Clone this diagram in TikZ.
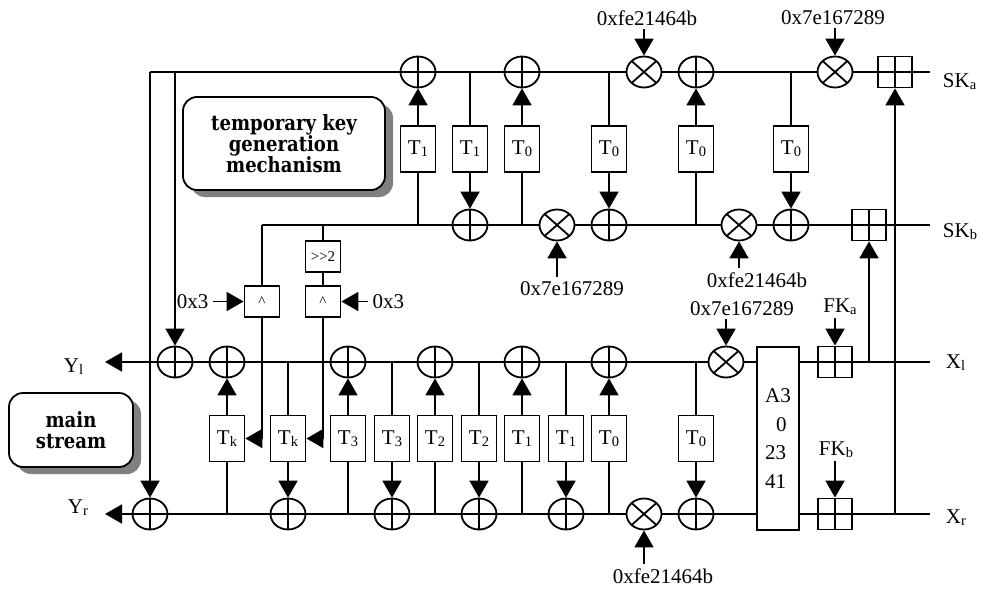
\documentclass[tikz,border=0pt]{standalone}
\usepackage{fontspec}
\setmainfont{Liberation Serif}
\newfontfamily\notefont{DejaVu Serif}[FakeStretch=0.86]
\usepackage{tikz}
\usetikzlibrary{positioning,arrows.meta,shapes.geometric,shadows}

\newcommand{\lsub}[1]{\raisebox{-2pt}{\fontsize{14.5}{14.5}\selectfont #1}}

\begin{document}
\begin{tikzpicture}[
  x=1pt, y=-1pt, line width=1.8pt,
  >={Triangle[length=17pt,width=19pt]},
  every node/.style={font=\fontsize{21}{24}\selectfont},
  adder/.style={draw, ellipse, minimum width=35pt, minimum height=31pt, inner sep=0pt,
    path picture={\draw (path picture bounding box.north) -- (path picture bounding box.south)
      (path picture bounding box.west) -- (path picture bounding box.east);}},
  mult/.style={draw, ellipse, minimum width=35pt, minimum height=31pt, inner sep=0pt,
    path picture={\draw (path picture bounding box.north west) -- (path picture bounding box.south east)
      (path picture bounding box.south west) -- (path picture bounding box.north east);}},
  quad/.style={draw, rectangle, minimum width=34pt, minimum height=31pt, inner sep=0pt,
    path picture={\draw (path picture bounding box.north) -- (path picture bounding box.south)
      (path picture bounding box.west) -- (path picture bounding box.east);}},
  tbox/.style={draw, rectangle, minimum width=35pt, minimum height=46pt, inner sep=0pt},
  andbox/.style={draw, rectangle, minimum width=35pt, minimum height=31pt, inner sep=0pt, font=\fontsize{15}{15}\selectfont},
  note/.style={draw, rounded corners=14pt, fill=white, align=center,
    drop shadow={shadow xshift=8pt, shadow yshift=-7pt, fill=black!50, opacity=1},
    font=\notefont\bfseries\fontsize{21}{21}\selectfont},
  port/.style={anchor=base west, inner sep=0pt}
]
\useasboundingbox (0,0) rectangle (983,592);

% notes
\node[note, minimum width=202pt, minimum height=93pt] (tkn) at (284,143.5) {temporary key\\generation\\mechanism};
\node[note, minimum width=124pt, minimum height=74pt] (msn) at (71,430) {main\\stream};

% SKa line
\node[adder] (ta1) at (418,72) {};
\node[adder] (ta2) at (522,72) {};
\node[mult] (tm1) at (644,72) {};
\node[adder] (ta3) at (696,72) {};
\node[mult] (tm2) at (835,72) {};
\node[quad] (tq) at (895,72) {};
\coordinate (tl) at (150,72);
\coordinate (tl2) at (175,72);
\coordinate (ska) at (930,72);
\draw (tl) -- (ta1) -- (ta2) -- (tm1) -- (ta3) -- (tm2) -- (tq) -- (ska);
\node[port] at (942,87) {SK\lsub{a}};

% SKb line
\node[adder] (ba1) at (470,225) {};
\node[mult] (bm1) at (557,225) {};
\node[adder] (ba2) at (609,225) {};
\node[mult] (bm2) at (739,225) {};
\node[adder] (ba3) at (791,225) {};
\node[quad] (bq) at (869,225) {};
\coordinate (bl) at (262,225);
\coordinate (skb) at (930,225);
\draw (bl) -- (ba1) -- (bm1) -- (ba2) -- (bm2) -- (ba3) -- (bq) -- (skb);
\node[port] at (942,237) {SK\lsub{b}};

% key boxes
\node[tbox] (tt1) at (418,149) {T\lsub{1}};
\node[tbox] (tt2) at (470,149) {T\lsub{1}};
\node[tbox] (tt3) at (522,149) {T\lsub{0}};
\node[tbox] (tt4) at (609,149) {T\lsub{0}};
\node[tbox] (tt5) at (696,149) {T\lsub{0}};
\node[tbox] (tt6) at (791,149) {T\lsub{0}};
\draw (tt1 |- bl) -- (tt1); \draw[->] (tt1) -- (ta1);
\draw (tt2 |- tl) -- (tt2); \draw[->] (tt2) -- (ba1);
\draw (tt3 |- bl) -- (tt3); \draw[->] (tt3) -- (ta2);
\draw (tt4 |- tl) -- (tt4); \draw[->] (tt4) -- (ba2);
\draw (tt5 |- bl) -- (tt5); \draw[->] (tt5) -- (ta3);
\draw (tt6 |- tl) -- (tt6); \draw[->] (tt6) -- (ba3);

% key constants
\node[anchor=base] (k1) at (647,25) {0xfe21464b};
\node[anchor=base] (k2) at (833,24) {0x7e167289};
\node[anchor=base] (k3) at (572,295) {0x7e167289};
\node[anchor=base] (k4) at (757,287) {0xfe21464b};
\draw[->] (k1.south -| tm1) -- (tm1);
\draw[->] (k2.south -| tm2) -- (tm2);
\draw[->] (k3.north -| bm1) -- (bm1);
\draw[->] (k4.north -| bm2) -- (bm2);

% Tk inputs
\node[andbox] (and1) at (262,301.5) {\textasciicircum};
\node[andbox] (shr) at (323,256.5) {>{}>2};
\node[andbox] (and2) at (323,301.5) {\textasciicircum};
\node[left=31pt of and1] (c1) {0x3};
\node[right=27pt of and2] (c2) {0x3};
\draw (bl) -- (and1);
\draw (shr |- bl) -- (shr) -- (and2);
\draw[->] (c1) -- (and1);
\draw[->] (c2) -- (and2);

% main stream
\node[adder] (la0) at (175,362) {};
\node[adder] (la1) at (227,362) {};
\node[adder] (la2) at (348,362) {};
\node[adder] (la3) at (435,362) {};
\node[adder] (la4) at (522,362) {};
\node[adder] (la5) at (609,362) {};
\node[mult] (lm) at (726,362) {};
\node[adder] (ra0) at (150,514) {};
\node[adder] (ra1) at (288,514) {};
\node[adder] (ra2) at (392,514) {};
\node[adder] (ra3) at (479,514) {};
\node[adder] (ra4) at (566,514) {};
\node[mult] (rm) at (644,514) {};
\node[adder] (ra5) at (696,514) {};
\node[draw, minimum width=42pt, minimum height=183pt, inner sep=0pt, align=left,
  font=\fontsize{21}{28.5}\selectfont] (perm) at (778,438.5) {A3\\\hspace{11pt}0\\23\\41};
\node[quad] (fa) at (835,362) {};
\node[quad] (fb) at (835,514) {};
\coordinate (xl) at (930,362);
\coordinate (xr) at (930,514);
\coordinate (yl) at (105,362);
\coordinate (yr) at (105,514);

\draw[->] (la0) -- (yl);
\draw (la0) -- (la1) -- (la2) -- (la3) -- (la4) -- (la5) -- (lm) -- (lm -| perm.west);
\draw (perm.east |- fa) -- (fa) -- (xl);
\draw[->] (ra0) -- (yr);
\draw (ra0) -- (ra1) -- (ra2) -- (ra3) -- (ra4) -- (rm) -- (ra5) -- (ra5 -| perm.west);
\draw (perm.east |- fb) -- (fb) -- (xr);
\draw[->] (tl) -- (ra0);
\draw[->] (tl2) -- (la0);
\draw[->] (bq |- xl) -- (bq);
\draw[->] (tq |- xr) -- (tq);

\node[port] at (63,372) {Y\lsub{l}};
\node[port] at (67,513) {Y\lsub{r}};
\node[port] at (945,368) {X\lsub{l}};
\node[port] at (945,523) {X\lsub{r}};

% round boxes
\node[tbox] (mt1) at (227,438.5) {T\lsub{k}};
\node[tbox] (mt2) at (288,438.5) {T\lsub{k}};
\node[tbox] (mt3) at (348,438.5) {T\lsub{3}};
\node[tbox] (mt4) at (392,438.5) {T\lsub{3}};
\node[tbox] (mt5) at (435,438.5) {T\lsub{2}};
\node[tbox] (mt6) at (479,438.5) {T\lsub{2}};
\node[tbox] (mt7) at (522,438.5) {T\lsub{1}};
\node[tbox] (mt8) at (566,438.5) {T\lsub{1}};
\node[tbox] (mt9) at (609,438.5) {T\lsub{0}};
\node[tbox] (mt10) at (696,438.5) {T\lsub{0}};
\draw (mt1 |- yr) -- (mt1); \draw[->] (mt1) -- (la1);
\draw (mt2 |- yl) -- (mt2); \draw[->] (mt2) -- (ra1);
\draw (mt3 |- yr) -- (mt3); \draw[->] (mt3) -- (la2);
\draw (mt4 |- yl) -- (mt4); \draw[->] (mt4) -- (ra2);
\draw (mt5 |- yr) -- (mt5); \draw[->] (mt5) -- (la3);
\draw (mt6 |- yl) -- (mt6); \draw[->] (mt6) -- (ra3);
\draw (mt7 |- yr) -- (mt7); \draw[->] (mt7) -- (la4);
\draw (mt8 |- yl) -- (mt8); \draw[->] (mt8) -- (ra4);
\draw (mt9 |- yr) -- (mt9); \draw[->] (mt9) -- (la5);
\draw (mt10 |- yl) -- (mt10); \draw[->] (mt10) -- (ra5);
\draw[->] (and1) |- (mt1);
\draw[->] (and2) |- (mt2);

% main constants
\node[anchor=base] (k5) at (742,315) {0x7e167289};
\node[anchor=base] (k6) at (663,583) {0xfe21464b};
\node[anchor=base] (fka) at (840,312) {FK\lsub{a}};
\node[anchor=base] (fkb) at (836,455) {FK\lsub{b}};
\draw[->] (k5.south -| lm) -- (lm);
\draw[->] (k6.north -| rm) -- (rm);
\draw[->] (fka.south -| fa) -- (fa);
\draw[->] (fkb.south -| fb) -- (fb);

\end{tikzpicture}
\end{document}
